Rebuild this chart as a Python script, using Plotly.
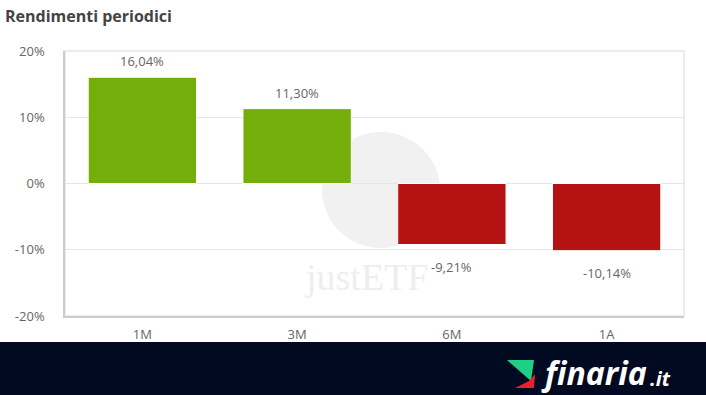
import plotly.graph_objects as go

categories = ["1M", "3M", "6M", "1A"]
values = [16.04, 11.30, -9.21, -10.14]
y_ticks = [-20, -10, 0, 10, 20]

W, H = 706, 395
L, R, T, B = 65, 22, 51, 79
pw, ph = W - L - R, H - T - B


def px(x):
    return (x - L) / pw


def py(y):
    return (H - B - y) / ph


colors = ["#74ae0b" if v >= 0 else "#b51313" for v in values]

fig = go.Figure()
fig.add_trace(go.Bar(
    x=categories, y=values,
    marker=dict(color=colors, line=dict(color="white", width=1)),
    hoverinfo="skip",
))

annotations = []
# watermark text
annotations.append(dict(
    xref="paper", yref="paper", x=px(366), y=py(277), text="justETF",
    xanchor="center", yanchor="middle",
    showarrow=False, font=dict(family="Liberation Serif", size=38, color="#eeeeee"),
))
for c, v in zip(categories, values):
    annotations.append(dict(
        x=c, y=v, text=f"{v:.2f}%".replace(".", ","), showarrow=False,
        yanchor="middle", yshift=16 if v >= 0 else -22,
        font=dict(family="Open Sans", size=13, color="#666666"),
    ))
# logo text
annotations.append(dict(
    xref="paper", yref="paper", x=px(540), y=py(372), xanchor="left", yanchor="middle",
    text="<b><i>finaria</i></b>", showarrow=False, borderpad=0,
    font=dict(family="Open Sans", size=32, color="white"),
))
annotations.append(dict(
    xref="paper", yref="paper", x=px(649), y=py(378), xanchor="left", yanchor="middle",
    text="<b><i>.it</i></b>", showarrow=False, borderpad=0,
    font=dict(family="Open Sans", size=20, color="white"),
))

shapes = [
    # watermark circle
    dict(type="circle", xref="paper", yref="paper", layer="below",
         x0=px(322), x1=px(440), y0=py(248), y1=py(132),
         fillcolor="#f1f1f1", line=dict(width=0)),
    # plot border
    dict(type="rect", xref="paper", yref="paper", x0=0, x1=1, y0=0, y1=1,
         line=dict(color="#e6e6e6", width=1.5), layer="below"),
    # banner
    dict(type="rect", xref="paper", yref="paper", x0=px(0), x1=px(W), y0=py(H), y1=py(342),
         fillcolor="#020a22", line=dict(width=0)),
    # logo green
    dict(type="path", xref="paper", yref="paper",
         path=f"M {px(507)},{py(360)} L {px(534)},{py(360)} L {px(531)},{py(381)} Z",
         fillcolor="#1fcf85", line=dict(width=0)),
    # logo red
    dict(type="path", xref="paper", yref="paper",
         path=f"M {px(515)},{py(388)} L {px(529)},{py(381)} L {px(535)},{py(374)} L {px(534)},{py(388)} Z",
         fillcolor="#e8202a", line=dict(width=0)),
]

fig.update_layout(
    width=W, height=H,
    margin=dict(l=L, r=R, t=T, b=B),
    paper_bgcolor="white", plot_bgcolor="white",
    bargap=0.30,
    showlegend=False,
    title=dict(text="<b>Rendimenti periodici</b>", xref="container", yref="container",
               x=5 / W, xanchor="left", y=1 - 16 / H, yanchor="middle",
               font=dict(family="Open Sans", size=16, color="#444444")),
    annotations=annotations,
    shapes=shapes,
    font=dict(family="Open Sans"),
)
fig.update_yaxes(
    range=[-20, 20], tickvals=y_ticks, ticktext=[f"{t}%" for t in y_ticks],
    gridcolor="#e6e6e6", zeroline=True, zerolinecolor="#e6e6e6", zerolinewidth=1,
    showline=True, linecolor="#cccccc", linewidth=1.5,
    ticks="outside", ticklen=16, tickcolor="rgba(0,0,0,0)",
    tickfont=dict(family="Open Sans", size=13, color="#666666"),
)
fig.update_xaxes(
    showline=True, linecolor="#cccccc", linewidth=1.5,
    ticks="outside", ticklen=6, tickcolor="rgba(0,0,0,0)",
    tickfont=dict(family="Open Sans", size=13, color="#666666"),
)

fig.write_html("out.html")
